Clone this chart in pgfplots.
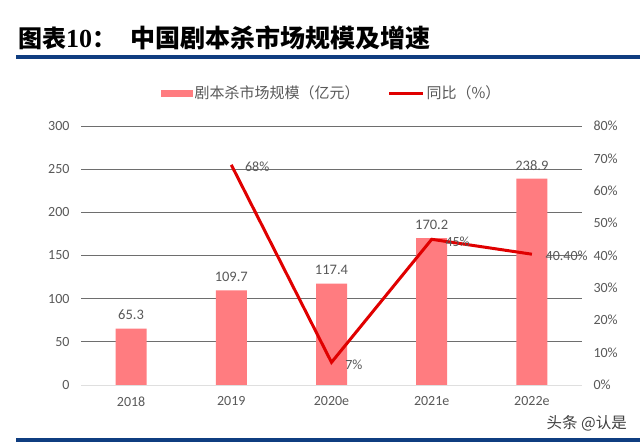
\documentclass[border=0pt]{standalone}
\usepackage{pgfplots}
\pgfplotsset{compat=1.18}
\usepackage{fontspec}
\setmainfont{Carlito}
\newfontfamily\cjk{Noto Sans CJK SC}
\newfontfamily\serifb{Liberation Serif}
\definecolor{barc}{HTML}{FF7C80}
\definecolor{linec}{HTML}{E00000}
\definecolor{bluec}{HTML}{0F3D80}
\definecolor{gridc}{HTML}{6E6E6E}
\definecolor{txtc}{HTML}{595959}

\begin{document}
\begin{tikzpicture}[x=1pt,y=1pt]
\fill[white] (0,0) rectangle (640,443);
% title
\node[anchor=west, inner sep=0] at (18,405) {\fontsize{24}{24}\selectfont\cjk\bfseries 图表{\serifb\bfseries\fontsize{26}{26}\selectfont 10}：};
\node[anchor=west, inner sep=0] at (130,405) {\fontsize{25}{25}\selectfont\cjk\bfseries 中国剧本杀市场规模及增速};
\fill[bluec] (16,384) rectangle (640,388);
\fill[bluec] (16,1) rectangle (640,5);
\node[anchor=east, inner sep=0, text=black!75] at (627,20) {\fontsize{15.5}{16}\selectfont\cjk 头条 @认是};

\begin{axis}[
  at={(81pt,58pt)}, anchor=south west,
  width=501pt, height=259pt, scale only axis,
  xmin=-0.5, xmax=4.5, ymin=0, ymax=300,
  xtick={0,...,4}, xticklabels={2018,2019,2020e,2021e,2022e},
  ytick={50,100,...,300},
  extra y ticks={0},
  extra y tick style={major grid style={gray!25, line width=0.8pt}},
  ymajorgrids, grid style={gridc, line width=0.7pt},
  axis line style={draw=none},
  major tick length=0pt,
  tick label style={font=\fontsize{14}{14}\selectfont, text=txtc},
  /pgf/number format/assume math mode=true,
  yticklabel style={xshift=-8pt},
  xticklabel style={yshift=-8pt},
  legend columns=2,
  legend style={draw=none, fill=none, at={(0.5,1.127)}, anchor=center,
    font=\fontsize{15}{15}\selectfont\cjk, text=txtc,
    /tikz/every even column/.append style={column sep=26pt}},
]
\addplot[ybar, bar width=31pt, fill=barc, draw=none,
  nodes near coords, point meta=explicit symbolic,
  nodes near coords style={font=\fontsize{14.5}{15}\selectfont, text=txtc, yshift=5pt},
  legend image code/.code={\fill[barc] (0pt,-3.5pt) rectangle (32pt,3.5pt);}]
  coordinates {(0,65.3)[65.3] (1,109.7)[109.7] (2,117.4)[117.4] (3,170.2)[170.2] (4,238.9)[238.9]};
\addlegendentry{剧本杀市场规模（亿元）}
\addlegendimage{legend image code/.code={\draw[linec, line width=3pt] (0pt,0pt) -- (34pt,0pt);}}
\addlegendentry{同比（\%）}
\end{axis}

\begin{axis}[
  at={(81pt,58pt)}, anchor=south west,
  width=501pt, height=259pt, scale only axis,
  xmin=-0.5, xmax=4.5, ymin=0, ymax=80,
  axis x line=none, axis y line*=right,
  axis line style={draw=none},
  ytick={0,10,...,80},
  yticklabels={0\%,10\%,20\%,30\%,40\%,50\%,60\%,70\%,80\%},
  major tick length=0pt,
  tick label style={font=\fontsize{14}{14}\selectfont, text=txtc},
  yticklabel style={xshift=8pt},
]
\addplot[linec, line width=3pt, mark=none,
  nodes near coords, point meta=explicit symbolic,
  nodes near coords style={font=\fontsize{14}{14}\selectfont, text=txtc, anchor=west, xshift=9pt, yshift=-2pt}]
  coordinates {(1,68)[68\%] (2,7)[7\%] (3,45)[45\%] (4,40.4)[40.40\%]};
\end{axis}
\end{tikzpicture}
\end{document}
